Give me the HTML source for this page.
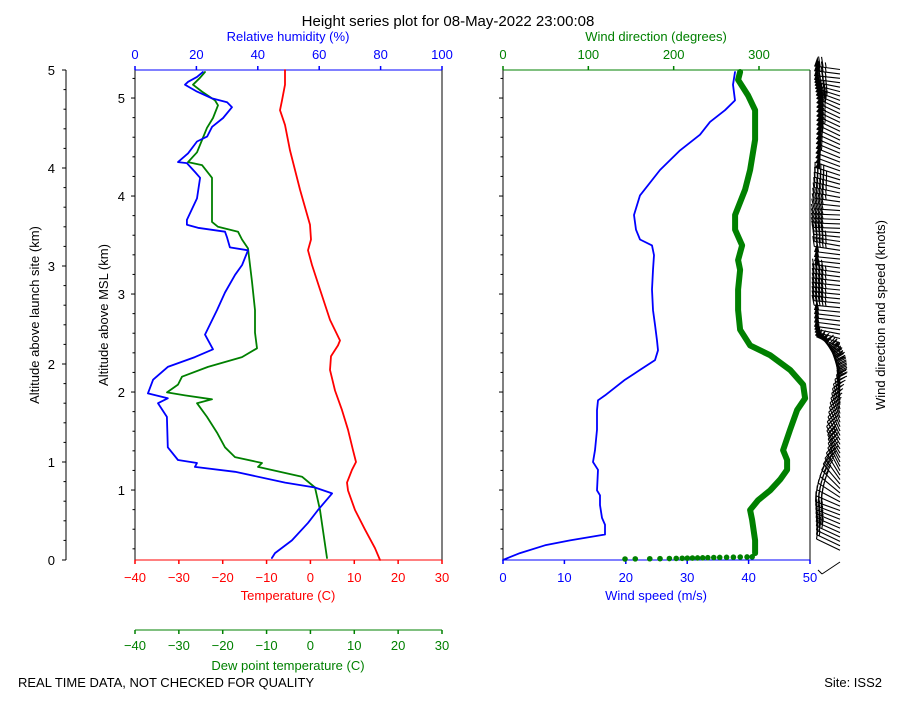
<!DOCTYPE html>
<html><head><meta charset="utf-8"><style>
body{margin:0;background:#fff;}
svg text{font-family:"Liberation Sans","DejaVu Sans",sans-serif;}
</style></head><body>
<svg id="c" width="900" height="700" xmlns="http://www.w3.org/2000/svg"></svg>
<script>
const tempH=[0,.12,.31,.51,.71,.79,.92,1.0,1.12,1.33,1.53,1.73,1.94,2.08,2.19,2.24,2.45,2.76,3.01,3.16,3.27,3.42,3.78,3.98,4.18,4.44,4.59,4.69,4.85,5.0];
const tempV=[15.86,14.72,12.44,10.16,8.56,8.34,9.48,10.39,9.70,8.56,7.20,5.60,4.46,4.69,6.28,6.74,4.46,2.18,0.36,-0.56,0.13,-0.10,-2.38,-3.52,-4.66,-5.80,-6.94,-6.48,-5.80,-5.80];
const dewH=[.02,.51,.74,.85,.95,.99,1.05,1.15,1.30,1.46,1.60,1.64,1.68,1.71,1.79,1.87,1.97,2.07,2.16,2.32,2.55,2.84,3.18,3.27,3.35,3.40,3.45,3.90,4.03,4.06,4.16,4.31,4.41,4.51,4.64,4.69,4.78,4.85,4.92,4.98];
const dewV=[3.78,2.18,1.04,-1.92,-11.96,-11.04,-17.20,-19.48,-21.30,-23.58,-25.86,-22.44,-28.60,-32.70,-30.20,-29.28,-23.36,-15.60,-12.18,-12.64,-12.64,-13.32,-14.24,-15.60,-16.52,-21.08,-22.44,-22.44,-24.72,-27.92,-25.86,-24.50,-23.58,-22.22,-21.08,-21.76,-24.72,-26.78,-25.18,-24.04];
const rhH=[.02,.07,.20,.38,.51,.68,.74,.79,.90,.95,.99,1.02,1.15,1.46,1.60,1.65,1.70,1.84,1.97,2.07,2.15,2.30,2.55,2.73,2.91,3.01,3.16,3.19,3.29,3.35,3.39,3.42,3.47,3.69,3.90,3.96,4.05,4.06,4.15,4.27,4.32,4.42,4.51,4.62,4.67,4.71,4.78,4.82,4.85,4.88,4.93,4.98];
const rhV=[44.6,45.6,51.1,56.4,59.6,64.2,58.6,48.9,32.6,19.5,20.2,14.0,10.7,10.4,7.5,10.7,4.2,5.9,10.7,19.5,25.4,22.8,26.7,29.3,32.6,34.9,36.8,30.9,30.0,29.3,20.5,16.9,16.9,20.2,21.2,19.5,16.9,14.0,17.3,20.2,23.5,25.1,28.7,31.6,30.0,25.1,20.2,17.9,16.3,17.3,20.2,22.1];
const spdH=[0,.03,.07,.15,.20,.26,.36,.43,.56,.66,.71,.92,1.0,1.12,1.33,1.53,1.63,1.68,1.84,1.94,2.04,2.14,2.24,2.40,2.55,2.76,2.96,3.11,3.21,3.27,3.37,3.52,3.72,3.98,4.18,4.34,4.47,4.59,4.69,4.85,4.98];
const spdV=[0,1.14,2.77,6.84,10.91,16.61,16.61,16.12,15.80,15.80,15.31,15.47,14.66,14.98,15.31,15.31,15.47,16.61,19.87,22.31,24.76,25.24,25.08,24.76,24.43,24.27,24.43,24.59,24.27,22.31,21.66,21.34,22.31,25.57,28.83,32.08,33.71,36.16,37.79,37.46,37.79];
const dirH=[.07,.20,.41,.51,.61,.71,.82,.92,1.02,1.12,1.33,1.53,1.65,1.79,1.94,2.09,2.19,2.35,2.55,2.76,2.96,3.06,3.21,3.37,3.52,3.78,3.98,4.29,4.59,4.74,4.90,4.98];
const dirV=[295.4,295.4,291.9,289.6,298.9,313.0,324.7,332.9,332.9,328.3,336.5,344.7,354.0,351.7,336.5,313.0,289.6,277.8,275.5,275.5,277.8,275.5,280.2,272.0,272.0,283.7,289.6,295.4,295.4,287.2,275.5,277.8];
const groundDir=[143,155,172,184,195,203,210,216,222,228,234,240,247,254,262,270,278,286,292];
const tempTicks=[-40,-30,-20,-10,0,10,20,30];
const rhTicks=[0,20,40,60,80,100];
const spdTicks=[0,10,20,30,40,50];
const dirTicks=[0,100,200,300];
const altTicks=[0,1,2,3,4,5];

const svg=document.getElementById('c');
const NS='http://www.w3.org/2000/svg';
function mk(tag,at,parent){const e=document.createElementNS(NS,tag);for(const k in at)e.setAttribute(k,at[k]);(parent||svg).appendChild(e);return e;}
function txt(s,x,y,at,parent){const e=mk('text',Object.assign({x:x,y:y,'font-size':13,'text-anchor':'middle'},at),parent);e.textContent=s;return e;}
const T=70,B=560;
const yH=h=>B-h*98;
const OFF=0.286;
const yMSL=m=>yH(m-OFF);
const xT=v=>135+(v+40)*307/70;
const xRH=v=>135+v*3.07;
const xS=v=>503+v*6.14;
const xD=v=>503+v*256/300;

function g(name){const e=mk('g',{});return e;}
function line(h,v,xf,col,w,name){const gg=g(name);let d='';for(let i=0;i<h.length;i++)d+=(i?'L':'M')+xf(v[i]).toFixed(1)+','+yH(h[i]).toFixed(1);mk('path',{d:d,fill:'none',stroke:col,'stroke-width':w,'stroke-linejoin':'round','stroke-linecap':'round'},gg);}

txt('Height series plot for 08-May-2022 23:00:08',448,26,{'font-size':15,});

let ga=g('launch-site-altitude-axis');
mk('line',{x1:66,y1:T,x2:66,y2:B,stroke:'#000'},ga);
for(let i=0;i<=25;i++){const y=yH(i*0.2);mk('line',{x1:i%5?63.5:62,y1:y,x2:66,y2:y,stroke:'#000'},ga);}
altTicks.forEach(v=>txt(String(v),55,yH(v)+5,{'text-anchor':'end'},ga));
txt('Altitude above launch site (km)',39,315,{transform:'rotate(-90 39 315)'},ga);

let gm=g('msl-altitude-axis');
for(let m=0.4;m<=5.3;m+=0.2){const y=yMSL(m);if(y<T-0.5)continue;const maj=Math.abs(m-Math.round(m))<0.01;mk('line',{x1:maj?131:132.5,y1:y,x2:135,y2:y,stroke:'#000'},gm);mk('line',{x1:maj?499:500.5,y1:y,x2:503,y2:y,stroke:'#000'},gm);if(maj)txt(String(Math.round(m)),125,y+5,{'text-anchor':'end'},gm);}
txt('Altitude above MSL (km)',108,315,{transform:'rotate(-90 108 315)'},gm);

let gl=g('thermo-panel');
mk('line',{x1:135,y1:T,x2:135,y2:B,stroke:'#000'},gl);
mk('line',{x1:442,y1:T,x2:442,y2:B,stroke:'#000'},gl);
mk('line',{x1:135,y1:T,x2:442,y2:T,stroke:'blue'},gl);
mk('line',{x1:135,y1:B,x2:442,y2:B,stroke:'red'},gl);
let gr=g('rh-axis');
rhTicks.forEach(v=>{mk('line',{x1:xRH(v),y1:T-4,x2:xRH(v),y2:T,stroke:'blue','stroke-width':1.5},gr);txt(String(v),xRH(v),59,{fill:'blue'},gr);});
txt('Relative humidity (%)',288,41,{fill:'blue'},gr);
let gt=g('temperature-axis');
tempTicks.forEach(v=>{mk('line',{x1:xT(v),y1:B,x2:xT(v),y2:B+4,stroke:'red','stroke-width':1.5},gt);txt('\u2212'.repeat(v<0?1:0)+Math.abs(v),xT(v),582,{fill:'red'},gt);});
txt('Temperature (C)',288,600,{fill:'red'},gt);
let gd=g('dewpoint-axis');
mk('line',{x1:135,y1:630,x2:442,y2:630,stroke:'green'},gd);
tempTicks.forEach(v=>{mk('line',{x1:xT(v),y1:630,x2:xT(v),y2:634,stroke:'green','stroke-width':1.5},gd);txt('\u2212'.repeat(v<0?1:0)+Math.abs(v),xT(v),650,{fill:'green'},gd);});
txt('Dew point temperature (C)',288,670,{fill:'green'},gd);

line(tempH,tempV,xT,'red',1.8,'temperature-line');
line(dewH,dewV,xT,'green',1.8,'dewpoint-line');
line(rhH,rhV,xRH,'blue',1.8,'relative-humidity-line');

let gw=g('wind-panel');
mk('line',{x1:503,y1:T,x2:503,y2:B,stroke:'#000'},gw);
mk('line',{x1:810,y1:T,x2:810,y2:B,stroke:'#000'},gw);
mk('line',{x1:503,y1:T,x2:810,y2:T,stroke:'green'},gw);
mk('line',{x1:503,y1:B,x2:810,y2:B,stroke:'blue'},gw);
let gdr=g('wind-direction-axis');
dirTicks.forEach(v=>{mk('line',{x1:xD(v),y1:T-4,x2:xD(v),y2:T,stroke:'green','stroke-width':1.5},gdr);txt(String(v),xD(v),59,{fill:'green'},gdr);});
txt('Wind direction (degrees)',656,41,{fill:'green'},gdr);
let gs=g('wind-speed-axis');
spdTicks.forEach(v=>{mk('line',{x1:xS(v),y1:B,x2:xS(v),y2:B+4,stroke:'blue','stroke-width':1.5},gs);txt(String(v),xS(v),582,{fill:'blue'},gs);});
txt('Wind speed (m/s)',656,600,{fill:'blue'},gs);

line(spdH,spdV,xS,'blue',1.8,'wind-speed-line');
line(dirH,dirV,xD,'green',6,'wind-direction-line');
let gg=g('wind-direction-ground-points');
groundDir.forEach((v,i)=>{mk('circle',{cx:xD(v),cy:B-1-i*0.12,r:2.8,fill:'green'},gg);});

function interp(H,V,h){if(h<=H[0])return V[0];for(let i=1;i<H.length;i++)if(h<=H[i]){const t=(h-H[i-1])/(H[i]-H[i-1]);return V[i-1]+t*(V[i]-V[i-1]);}return V[V.length-1];}
let gb=g('wind-barbs');
for(let h=0.1;h<=5.02;h+=0.045){
  const d=interp(dirH,dirV,h)*Math.PI/180,kt=interp(spdH,spdV,h)*1.944;
  const px=840,py=yH(h);const ux=Math.sin(d),uy=-Math.cos(d);const vx=-uy,vy=ux;
  const L=26;let ex=px+L*ux,ey=py+L*uy;
  let p='M'+px.toFixed(1)+','+py.toFixed(1)+'L'+ex.toFixed(1)+','+ey.toFixed(1);
  let k=Math.round(kt/5)*5;let pos=0;
  const bl=10;
  while(k>=50){const a=L-pos,b=L-pos-5;mk('path',{d:`M${px+a*ux},${py+a*uy}L${px+(a-2)*ux+bl*vx},${py+(a-2)*uy+bl*vy}L${px+b*ux},${py+b*uy}Z`,fill:'#000'},gb);k-=50;pos+=6;}
  while(k>=10){const a=L-pos;p+=`M${px+a*ux},${py+a*uy}l${bl*vx+3*ux},${bl*vy+3*uy}`;k-=10;pos+=3;}
  if(k>=5){const a=L-pos-(pos?0:3);p+=`M${px+a*ux},${py+a*uy}l${bl/2*vx+1.5*ux},${bl/2*vy+1.5*uy}`;}
  mk('path',{d:p,stroke:'#000','stroke-width':1.1,fill:'none'},gb);
}
mk('path',{d:'M822,574L840,562M822,574L818,570',stroke:'#000',fill:'none'},gb);
txt('Wind direction and speed (knots)',885,315,{transform:'rotate(-90 885 315)',});

txt('REAL TIME DATA, NOT CHECKED FOR QUALITY',18,687,{'text-anchor':'start',});
txt('Site: ISS2',882,687,{'text-anchor':'end',});
</script>
</body></html>
